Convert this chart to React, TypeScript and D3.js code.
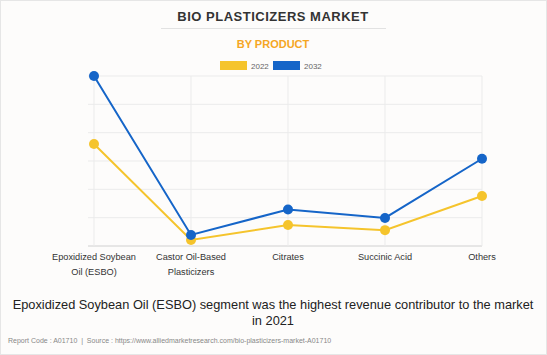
import React from "react";
import * as d3 from "d3";

const categories = ["Epoxidized Soybean|Oil (ESBO)", "Castor Oil-Based|Plasticizers", "Citrates", "Succinic Acid", "Others"];
const series2022 = [3600, 210, 740, 560, 1765];
const series2032 = [6000, 390, 1290, 990, 3080];
const years = ["2022", "2032"];
const colors = ["#F5C42C", "#1565C8"];
const yTicks = [0, 1000, 2000, 3000, 4000, 5000, 6000];

export default function App() {
  const W = 547, H = 355;
  const x = d3.scalePoint<string>().domain(categories).range([94, 482]);
  const y = d3.scaleLinear().domain([0, 6000]).range([246, 76]);
  const line = d3.line<number>().x((_, i) => x(categories[i])!).y((d) => y(d));
  const font = "'Liberation Sans', Arial, sans-serif";
  const allSeries = [series2022, series2032];
  return (
    <svg width={W} height={H} style={{ position: "absolute", left: 0, top: 0, fontFamily: font }}>
      <rect x={0.5} y={0.5} width={W - 1} height={H - 1} fill="#fdfcfb" stroke="#e6e6e6" />
      <text x={273} y={21} textAnchor="middle" fontSize={13} fontWeight="bold" fill="#333" letterSpacing={0.5}>BIO PLASTICIZERS MARKET</text>
      <line x1={161} x2={386} y1={28.5} y2={28.5} stroke="#e2e2e2" />
      <text x={273} y={48} textAnchor="middle" fontSize={11} fontWeight="bold" fill="#F5A623">BY PRODUCT</text>
      {years.map((yr, i) => (
        <g key={yr} transform={`translate(${220 + i * 53},61)`}>
          <rect width={27} height={9} fill={colors[i]} />
          <text x={31} y={8} fontSize={8} fill="#666">{yr}</text>
        </g>
      ))}
      {yTicks.map((t) => (
        <line key={t} x1={88} x2={482} y1={y(t)} y2={y(t)} stroke={t === 0 ? "#d0d0d0" : "#ebebeb"} />
      ))}
      {categories.map((c) => (
        <line key={c} x1={x(c)} x2={x(c)} y1={76} y2={246} stroke="#ebebeb" />
      ))}
      {allSeries.map((s, i) => (
        <g key={i}>
          <path d={line(s)!} fill="none" stroke={colors[i]} strokeWidth={2} />
          {s.map((v, j) => (
            <circle key={j} cx={x(categories[j])} cy={y(v)} r={5} fill={colors[i]} />
          ))}
        </g>
      ))}
      {categories.map((c) => (
        <text key={c} x={x(c)} y={260} textAnchor="middle" fontSize={9.2} fill="#333">
          {c.split("|").map((p, k) => (
            <tspan key={k} x={x(c)} dy={k === 0 ? 0 : 15}>{p}</tspan>
          ))}
        </text>
      ))}
      <text x={273} y={309} textAnchor="middle" fontSize={12.8} fill="#222">Epoxidized Soybean Oil (ESBO) segment was the highest revenue contributor to the market</text>
      <text x={273} y={325} textAnchor="middle" fontSize={12.8} fill="#222">in 2021</text>
      <text x={8} y={343} fontSize={7} fill="#888" style={{ whiteSpace: "pre" }}>{"Report Code : A01710  |  Source : https://www.alliedmarketresearch.com/bio-plasticizers-market-A01710"}</text>
    </svg>
  );
}
